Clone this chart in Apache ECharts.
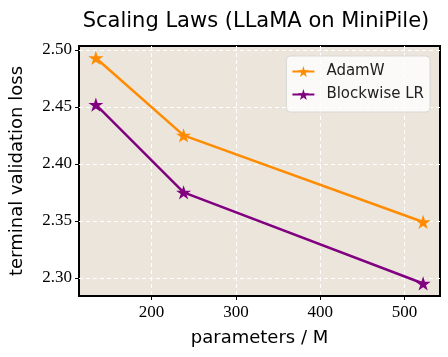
<!DOCTYPE html>
<html>
<head>
<meta charset="utf-8">
<script src="https://cdn.jsdelivr.net/npm/echarts@6/dist/echarts.min.js"></script>
<style>
  html, body { margin: 0; padding: 0; background: #fff; }
  #chart { width: 448px; height: 357px; }
</style>
</head>
<body>
<div id="chart"></div>
<script>
  // values
  var params = [134, 238, 522];
  var adamw = [2.493, 2.425, 2.349];
  var blockwise = [2.452, 2.375, 2.295];
  var xTicks = [200, 300, 400, 500];
  var yTicks = [2.30, 2.35, 2.40, 2.45, 2.50];

  var star = 'path://M100,0L122.45,69.1L195.1,69.1L136.3,111.8L158.8,180.9L100,138.2L41.2,180.9L63.7,111.8L4.9,69.1L77.55,69.1Z';

  function pairs(xs, ys) {
    return xs.map(function (x, i) { return [x, ys[i]]; });
  }

  var chart = echarts.init(document.getElementById('chart'));
  var serif = '"Liberation Serif", serif';
  var sans = '"DejaVu Sans", sans-serif';

  var option = {
    animation: false,
    title: {
      text: 'Scaling Laws (LLaMA on MiniPile)',
      left: 251, top: 6, textAlign: 'center',
      textStyle: { fontFamily: sans, fontWeight: 'normal', fontSize: 21, color: '#000' }
    },
    legend: {
      right: 18, top: 56,
      orient: 'vertical',
      itemWidth: 22, itemHeight: 14, itemGap: 8,
      padding: [8, 6, 10, 5],
      backgroundColor: 'rgba(255,255,255,0.8)',
      borderColor: '#d8d8d8', borderWidth: 1, borderRadius: 4,
      textStyle: { fontFamily: sans, fontSize: 15, color: '#222', padding: [0, 0, 0, 7] },
      data: ['AdamW', 'Blockwise LR']
    },
    grid: {
      left: 73, right: 8, top: 46, bottom: 61,
      show: true,
      backgroundColor: '#ebe5dc',
      borderColor: '#000', borderWidth: 2
    },
    xAxis: {
      type: 'value', min: 114, max: 542,
      name: 'parameters / M',
      nameLocation: 'middle', nameGap: 33,
      nameTextStyle: { fontFamily: sans, fontSize: 18, color: '#000' },
      axisLine: { show: false },
      axisTick: { show: true, length: 4, customValues: xTicks, lineStyle: { color: '#000' } },
      axisLabel: { customValues: xTicks, fontFamily: serif, fontSize: 17, color: '#000', margin: 8 },
      splitLine: { show: true, lineStyle: { color: '#fff', type: [4, 3], width: 1 } }
    },
    yAxis: {
      type: 'value', min: 2.284, max: 2.5035,
      name: 'terminal validation loss',
      nameLocation: 'middle', nameGap: 53,
      nameTextStyle: { fontFamily: sans, fontSize: 18, color: '#000' },
      axisLine: { show: false },
      axisTick: { show: true, length: 4, customValues: yTicks, lineStyle: { color: '#000' } },
      axisLabel: {
        customValues: yTicks, fontFamily: serif, fontSize: 17, color: '#000', margin: 7,
        formatter: function (v) { return v.toFixed(2); }
      },
      splitLine: { show: true, lineStyle: { color: '#fff', type: [4, 3], width: 1 } }
    },
    series: [
      {
        name: 'AdamW', type: 'line',
        data: pairs(params, adamw),
        symbol: star, symbolSize: 15, symbolKeepAspect: true,
        itemStyle: { color: '#ff8c00' },
        lineStyle: { color: '#ff8c00', width: 2.5 }
      },
      {
        name: 'Blockwise LR', type: 'line',
        data: pairs(params, blockwise),
        symbol: star, symbolSize: 15, symbolKeepAspect: true,
        itemStyle: { color: '#800080' },
        lineStyle: { color: '#800080', width: 2.5 }
      }
    ]
  };
  chart.setOption(option);
</script>
</body>
</html>
